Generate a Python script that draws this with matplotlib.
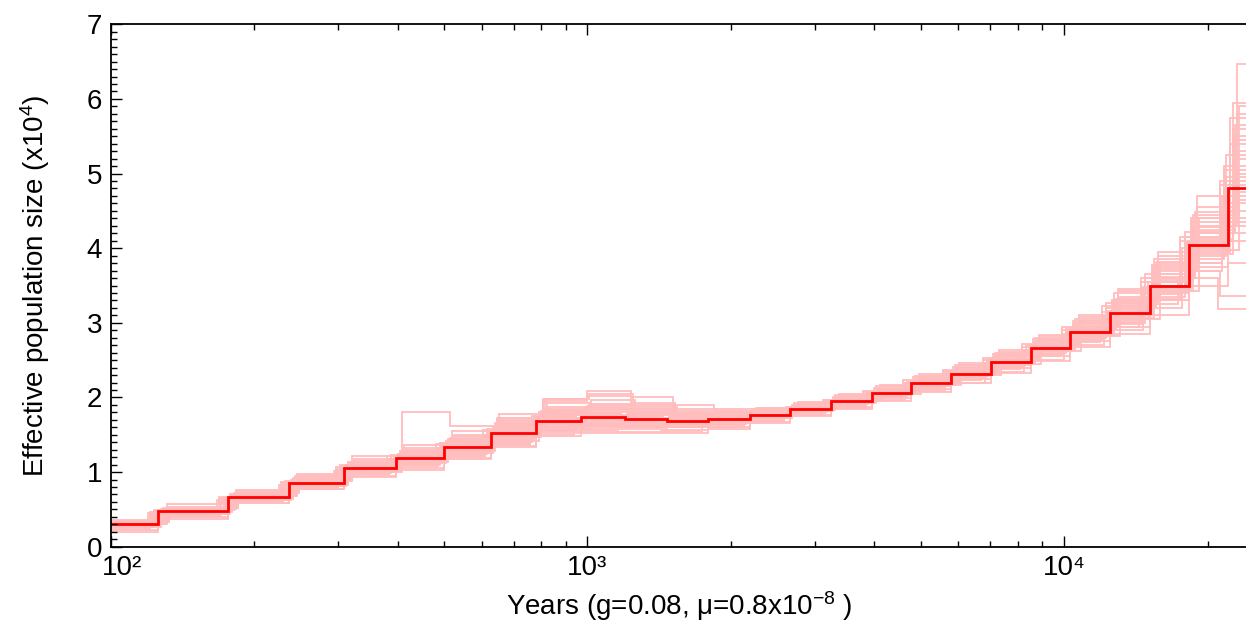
import numpy as np
import matplotlib.pyplot as plt
import matplotlib.transforms as mtransforms
from matplotlib.ticker import MultipleLocator, LogLocator, NullFormatter

plt.rcParams['font.family'] = ['Liberation Sans', 'DejaVu Sans']
plt.rcParams['mathtext.fontset'] = 'custom'
plt.rcParams['mathtext.rm'] = 'Liberation Sans'
plt.rcParams['mathtext.it'] = 'Liberation Sans:italic'

# step start times (years) of the main PSMC curve
step_years = [80, 126, 176, 237, 309, 396, 501, 628, 782, 968, 1198, 1468, 1792,
              2193, 2665, 3244, 3951, 4777, 5799, 7035, 8507, 10310, 12500,
              15110, 18250, 22110]
end_year = 40000

# main estimate, Ne in units of 10^4
main_ne = [0.30, 0.48, 0.66, 0.86, 1.06, 1.19, 1.34, 1.52, 1.69, 1.74, 1.71,
           1.68, 1.71, 1.77, 1.85, 1.95, 2.06, 2.19, 2.32, 2.48, 2.66, 2.88,
           3.13, 3.50, 4.04, 4.81]

# bootstrap replicates (same intervals, each with its own time scaling)
boot_scale = [1.02, 0.97, 1.04, 0.99, 1.03, 0.96, 1.01, 1.05, 0.98, 1.00, 1.03,
              0.97, 1.04, 0.95, 1.02, 0.98, 1.01, 0.99, 1.03, 0.97, 0.96, 1.02,
              1.00, 1.04, 0.98, 1.02, 0.96, 1.05, 0.99, 1.01, 0.97, 1.03]
boot_ne = [
    [0.33, 0.52, 0.71, 0.92, 1.14, 1.28, 1.45, 1.66, 1.82, 1.86, 1.80, 1.76, 1.78, 1.84, 1.93, 2.03, 2.15, 2.29, 2.43, 2.60, 2.80, 3.05, 3.40, 3.85, 4.45, 5.60],
    [0.26, 0.43, 0.60, 0.79, 0.97, 1.08, 1.22, 1.38, 1.55, 1.62, 1.61, 1.60, 1.63, 1.69, 1.77, 1.86, 1.96, 2.08, 2.20, 2.34, 2.50, 2.70, 2.90, 3.20, 3.70, 4.20],
    [0.31, 0.50, 0.68, 0.88, 1.10, 1.25, 1.42, 1.62, 1.80, 1.85, 1.79, 1.73, 1.74, 1.79, 1.87, 1.97, 2.09, 2.22, 2.36, 2.52, 2.71, 2.95, 3.25, 3.70, 4.30, 5.30],
    [0.28, 0.46, 0.63, 0.83, 1.02, 1.14, 1.28, 1.45, 1.62, 1.68, 1.66, 1.65, 1.69, 1.75, 1.83, 1.93, 2.03, 2.16, 2.29, 2.44, 2.62, 2.82, 3.05, 3.40, 3.90, 4.60],
    [0.32, 0.51, 0.72, 0.95, 1.00, 1.81, 1.62, 1.72, 1.98, 2.02, 1.90, 1.82, 1.80, 1.84, 1.90, 1.99, 2.10, 2.23, 2.37, 2.55, 2.75, 3.00, 3.30, 3.60, 4.20, 5.00],
    [0.29, 0.47, 0.65, 0.85, 1.04, 1.17, 1.32, 1.50, 1.67, 1.72, 1.70, 1.68, 1.72, 1.78, 1.86, 1.96, 2.07, 2.20, 2.34, 2.50, 2.68, 2.90, 3.15, 3.55, 4.10, 4.90],
    [0.27, 0.44, 0.62, 0.82, 1.00, 1.12, 1.26, 1.42, 1.58, 1.64, 1.63, 1.62, 1.66, 1.73, 1.82, 1.92, 2.04, 2.17, 2.31, 2.47, 2.65, 2.86, 3.10, 3.45, 3.95, 4.50],
    [0.34, 0.53, 0.74, 0.96, 1.18, 1.32, 1.50, 1.72, 1.92, 1.96, 1.87, 1.79, 1.78, 1.82, 1.90, 2.00, 2.12, 2.26, 2.40, 2.57, 2.77, 3.02, 3.35, 3.80, 4.40, 5.90],
    [0.30, 0.49, 0.67, 0.87, 1.08, 1.22, 1.38, 1.57, 1.74, 1.78, 1.74, 1.70, 1.72, 1.77, 1.85, 1.95, 2.06, 2.19, 2.33, 2.49, 2.68, 2.91, 3.20, 3.60, 4.15, 5.10],
    [0.22, 0.40, 0.59, 0.78, 0.95, 1.06, 1.19, 1.35, 1.52, 1.58, 1.58, 1.57, 1.61, 1.67, 1.75, 1.85, 1.95, 2.07, 2.19, 2.33, 2.49, 2.68, 2.85, 3.10, 3.50, 3.80],
    [0.31, 0.49, 0.69, 0.90, 1.12, 1.27, 1.44, 1.64, 1.83, 1.88, 1.82, 1.77, 1.77, 1.81, 1.88, 1.97, 2.08, 2.21, 2.35, 2.51, 2.70, 2.93, 3.22, 3.65, 4.25, 5.45],
    [0.29, 0.47, 0.64, 0.84, 1.03, 1.15, 1.30, 1.48, 1.66, 1.71, 1.69, 1.67, 1.70, 1.76, 1.84, 1.94, 2.05, 2.18, 2.31, 2.46, 2.64, 2.85, 3.08, 3.48, 4.00, 4.70],
    [0.32, 0.50, 0.70, 0.91, 1.11, 1.26, 1.43, 1.63, 1.84, 1.90, 1.84, 1.78, 1.79, 1.85, 1.94, 2.05, 2.17, 2.31, 2.46, 2.63, 2.84, 3.10, 3.45, 3.95, 4.70, 6.47],
    [0.28, 0.45, 0.63, 0.83, 1.01, 1.13, 1.27, 1.44, 1.60, 1.66, 1.65, 1.64, 1.67, 1.73, 1.81, 1.90, 2.00, 2.12, 2.24, 2.38, 2.55, 2.74, 2.95, 3.25, 3.60, 3.18],
    [0.30, 0.48, 0.66, 0.86, 1.06, 1.20, 1.36, 1.55, 1.72, 1.77, 1.73, 1.69, 1.71, 1.76, 1.84, 1.94, 2.05, 2.18, 2.32, 2.48, 2.67, 2.89, 3.18, 3.58, 4.12, 5.20],
    [0.27, 0.45, 0.62, 0.81, 0.99, 1.10, 1.24, 1.40, 1.57, 1.63, 1.62, 1.61, 1.65, 1.72, 1.81, 1.91, 2.02, 2.15, 2.28, 2.43, 2.60, 2.80, 3.00, 3.35, 3.85, 4.40],
    [0.33, 0.51, 0.70, 0.90, 1.10, 1.24, 1.40, 1.60, 1.78, 1.83, 1.78, 1.74, 1.76, 1.82, 1.90, 2.01, 2.13, 2.27, 2.41, 2.58, 2.78, 3.02, 3.30, 3.75, 4.35, 5.75],
    [0.29, 0.46, 0.65, 0.85, 1.05, 1.18, 1.33, 1.51, 1.68, 1.73, 1.71, 1.69, 1.72, 1.78, 1.86, 1.96, 2.07, 2.20, 2.33, 2.49, 2.66, 2.87, 3.12, 3.50, 4.05, 4.95],
    [0.31, 0.50, 0.69, 0.89, 1.09, 1.26, 1.46, 1.70, 1.95, 2.08, 2.00, 1.90, 1.85, 1.86, 1.90, 1.98, 2.08, 2.21, 2.34, 2.50, 2.69, 2.92, 3.22, 3.62, 4.20, 5.50],
    [0.27, 0.44, 0.61, 0.80, 0.97, 1.09, 1.22, 1.37, 1.50, 1.55, 1.54, 1.55, 1.60, 1.68, 1.78, 1.89, 2.01, 2.14, 2.27, 2.42, 2.58, 2.78, 3.02, 3.38, 3.80, 4.35],
    [0.30, 0.47, 0.66, 0.87, 1.07, 1.21, 1.37, 1.56, 1.73, 1.76, 1.72, 1.68, 1.70, 1.75, 1.83, 1.92, 2.03, 2.16, 2.29, 2.45, 2.63, 2.84, 3.00, 3.30, 3.70, 3.36],
    [0.32, 0.50, 0.68, 0.88, 1.08, 1.23, 1.40, 1.59, 1.76, 1.80, 1.76, 1.72, 1.74, 1.80, 1.88, 1.98, 2.10, 2.24, 2.38, 2.55, 2.74, 2.98, 3.28, 3.72, 4.28, 5.95],
    [0.20, 0.37, 0.58, 0.77, 0.93, 1.03, 1.17, 1.33, 1.48, 1.52, 1.52, 1.53, 1.58, 1.66, 1.76, 1.87, 1.99, 2.12, 2.25, 2.40, 2.56, 2.75, 2.95, 3.30, 3.75, 4.10],
    [0.36, 0.57, 0.76, 0.98, 1.22, 1.36, 1.55, 1.78, 1.98, 2.05, 1.93, 1.84, 1.82, 1.86, 1.93, 2.03, 2.15, 2.29, 2.44, 2.61, 2.82, 3.08, 3.42, 3.90, 4.55, 5.80],
    [0.29, 0.48, 0.67, 0.88, 1.09, 1.23, 1.39, 1.58, 1.75, 1.79, 1.75, 1.71, 1.73, 1.79, 1.87, 1.97, 2.08, 2.21, 2.35, 2.51, 2.70, 2.93, 3.26, 3.66, 4.22, 5.05],
    [0.31, 0.47, 0.64, 0.83, 1.01, 1.13, 1.28, 1.47, 1.65, 1.71, 1.69, 1.66, 1.69, 1.75, 1.83, 1.93, 2.04, 2.17, 2.30, 2.45, 2.63, 2.84, 3.06, 3.42, 3.92, 4.65],
    [0.24, 0.41, 0.60, 0.80, 0.98, 1.11, 1.25, 1.43, 1.60, 1.66, 1.66, 1.66, 1.70, 1.77, 1.86, 1.97, 2.09, 2.23, 2.37, 2.53, 2.72, 2.95, 3.22, 3.60, 4.15, 4.85],
    [0.33, 0.52, 0.72, 0.93, 1.15, 1.30, 1.48, 1.69, 1.87, 1.91, 1.85, 1.79, 1.78, 1.81, 1.87, 1.95, 2.05, 2.17, 2.30, 2.45, 2.62, 2.82, 3.05, 3.42, 3.98, 4.75],
    [0.28, 0.46, 0.66, 0.87, 1.07, 1.21, 1.36, 1.54, 1.70, 1.73, 1.69, 1.66, 1.68, 1.74, 1.82, 1.92, 2.03, 2.16, 2.30, 2.46, 2.65, 2.88, 3.16, 3.55, 4.08, 5.25],
    [0.30, 0.49, 0.68, 0.89, 1.10, 1.24, 1.41, 1.61, 1.80, 1.86, 1.81, 1.75, 1.75, 1.79, 1.86, 1.95, 2.06, 2.20, 2.34, 2.51, 2.71, 2.96, 3.28, 3.78, 4.40, 5.40],
    [0.26, 0.44, 0.62, 0.81, 0.98, 1.09, 1.23, 1.39, 1.55, 1.60, 1.60, 1.60, 1.64, 1.71, 1.80, 1.90, 2.01, 2.14, 2.27, 2.41, 2.58, 2.77, 2.98, 3.32, 3.80, 4.30],
    [0.32, 0.50, 0.69, 0.90, 1.11, 1.25, 1.42, 1.61, 1.79, 1.84, 1.79, 1.74, 1.75, 1.80, 1.88, 1.99, 2.11, 2.25, 2.39, 2.56, 2.76, 3.00, 3.32, 3.82, 4.48, 5.65],
]

x_ticks = [100, 1000, 10000]
x_ticklabels = ['10²', '10³', '10⁴']

fig = plt.figure(figsize=(12.46, 6.21), dpi=100)
ax = fig.add_axes([0.0888, 0.1196, 0.9128, 0.8413])

edges = np.array(step_years + [end_year], dtype=float)
for f, ne in zip(boot_scale, boot_ne):
    ax.stairs(ne, edges * f, baseline=None, color='#ffbdbd', lw=1.3)
ax.stairs(main_ne, edges, baseline=None, color='#ff0000', lw=2.0)

ax.set_xscale('log')
ax.set_xlim(100, 24300)
ax.set_ylim(0, 7)
ax.set_xticks(x_ticks)
ax.set_xticklabels(x_ticklabels)
ax.xaxis.set_minor_locator(LogLocator(base=10, subs=np.arange(2, 10)))
ax.xaxis.set_minor_formatter(NullFormatter())
ax.yaxis.set_major_locator(MultipleLocator(1))
ax.yaxis.set_minor_locator(MultipleLocator(0.1))

ax.tick_params(which='both', direction='in', top=True, right=False,
               labelsize=20, colors='black', width=1.0)
ax.tick_params(which='major', length=8, pad=6)
ax.tick_params(which='minor', length=4)
for s in ax.spines.values():
    s.set_linewidth(1.3)
ax.spines['right'].set_visible(False)

# the 10^2 label sits a little right of the left spine
first = ax.get_xticklabels()[0]
first.set_transform(first.get_transform() +
                    mtransforms.ScaledTranslation(0.11, 0, fig.dpi_scale_trans))

ax.set_xlabel('Years (g=0.08, μ=0.8x10$^{-8}$ )', fontsize=20, labelpad=6)
ax.set_ylabel('Effective population size (x10$^{4}$)', fontsize=20, labelpad=25)

fig.savefig('out.png', dpi=100)
